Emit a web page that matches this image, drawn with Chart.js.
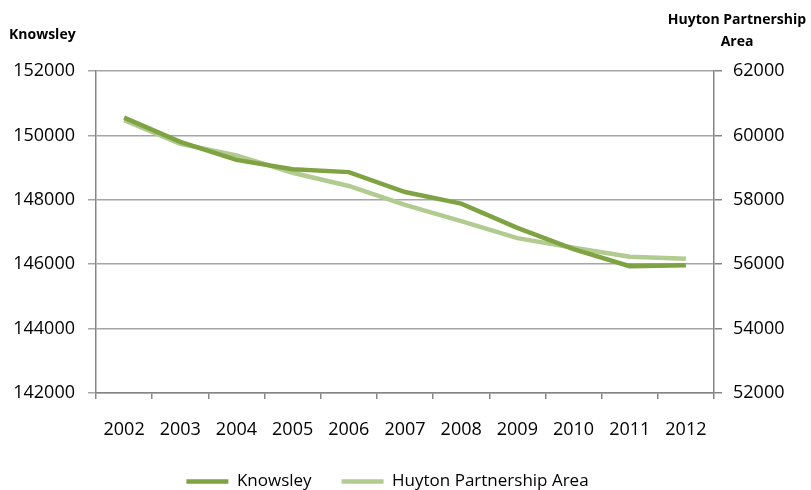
<!DOCTYPE html>
<html>
<head>
<meta charset="utf-8">
<script src="https://cdn.jsdelivr.net/npm/chart.js@4/dist/chart.umd.min.js"></script>
<style>
  html, body { margin: 0; padding: 0; background: #fff; }
  #wrap { width: 811px; height: 490px; }
</style>
</head>
<body>
<div id="wrap"><canvas id="myChart"></canvas></div>
<script>
const years = ['2002', '2003', '2004', '2005', '2006', '2007', '2008', '2009', '2010', '2011', '2012'];
const knowsley = [150550, 149800, 149240, 148950, 148860, 148240, 147880, 147130, 146470, 145940, 145970];
const huyton = [60470, 59740, 59380, 58840, 58430, 57840, 57340, 56810, 56510, 56230, 56170];
const leftTicks = [142000, 144000, 146000, 148000, 150000, 152000];
const rightTicks = [52000, 54000, 56000, 58000, 60000, 62000];

const font = "'Open Sans', 'DejaVu Sans', sans-serif";

// axis titles sit above the axes, not along them
const axisTitles = {
    id: 'axisTitles',
    afterUpdate(chart) {
        // legend sits a bit left of centre in the original
        const legend = chart.legend;
        legend.left -= 18;
        legend.right -= 18;
        legend.adjustHitBoxes();
    },
    afterDraw(chart) {
        const ctx = chart.ctx;
        ctx.save();
        ctx.fillStyle = '#000';
        ctx.font = "bold 14px " + font;
        ctx.textBaseline = 'middle';
        ctx.textAlign = 'left';
        ctx.fillText('Knowsley', 9, 35);
        ctx.textAlign = 'center';
        ctx.fillText('Huyton Partnership', 737, 20);
        ctx.fillText('Area', 737, 42);
        ctx.restore();
    }
};

const ctx = document.getElementById('myChart').getContext('2d');
const statisticChart = new Chart(ctx, {
    type: 'line',
    data: {
        labels: years,
        datasets: [{
            label: 'Knowsley',
            data: knowsley,
            borderColor: '#7fa343',
            backgroundColor: '#7fa343',
            borderWidth: 4.5,
            pointRadius: 0,
            tension: 0,
            yAxisID: 'y'
        }, {
            label: 'Huyton Partnership Area',
            data: huyton,
            borderColor: '#b2cb91',
            backgroundColor: '#b2cb91',
            borderWidth: 4.5,
            pointRadius: 0,
            tension: 0,
            yAxisID: 'y1'
        }]
    },
    options: {
        responsive: true,
        maintainAspectRatio: false,
        animation: false,
        layout: { padding: { top: 71, left: 0, right: 0, bottom: -10 } },
        plugins: {
            legend: {
                position: 'bottom',
                labels: {
                    boxWidth: 42,
                    boxHeight: 0,
                    color: '#000',
                    padding: 30,
                    font: { family: font, size: 17 }
                }
            },
            tooltip: { enabled: false }
        },
        scales: {
            x: {
                offset: true,
                grid: { display: true, drawOnChartArea: false, offset: true, color: '#868686', lineWidth: 1.5, tickLength: 6 },
                border: { color: '#868686', width: 1.5 },
                ticks: { color: '#000', padding: 20, font: { family: font, size: 18 } },
                afterFit: (axis) => { axis.height = 50; }
            },
            y: {
                position: 'left',
                min: 142000,
                max: 152000,
                afterBuildTicks: (axis) => { axis.ticks = leftTicks.map(v => ({ value: v })); },
                afterFit: (axis) => { axis.width = 96; },
                grid: { color: '#a6a6a6', lineWidth: 1.5, tickLength: 8 },
                border: { color: '#868686', width: 1.5 },
                ticks: { color: '#000', padding: 13, font: { family: font, size: 18 }, callback: (v) => String(v) }
            },
            y1: {
                position: 'right',
                min: 52000,
                max: 62000,
                afterBuildTicks: (axis) => { axis.ticks = rightTicks.map(v => ({ value: v })); },
                afterFit: (axis) => { axis.width = 97; },
                grid: { drawOnChartArea: false, color: '#868686', lineWidth: 1.5, tickLength: 8 },
                border: { color: '#868686', width: 1.5 },
                ticks: { color: '#000', padding: 11, font: { family: font, size: 18 }, callback: (v) => String(v) }
            }
        }
    },
    plugins: [axisTitles]
});
</script>
</body>
</html>
